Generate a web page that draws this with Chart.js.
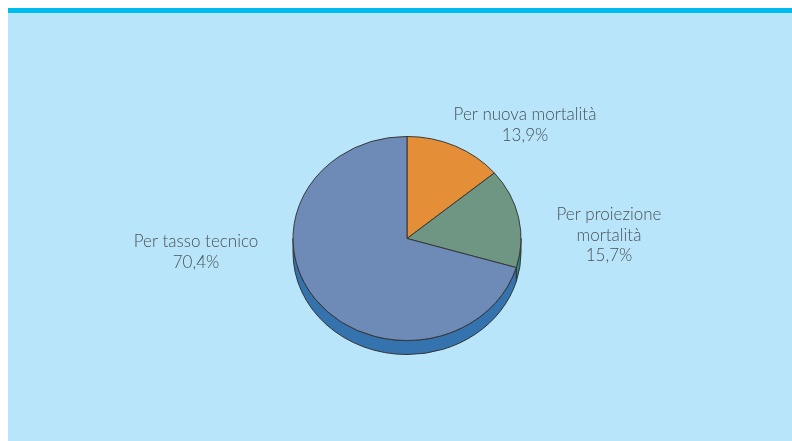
<!DOCTYPE html>
<html>
<head>
<meta charset="utf-8">
<script src="https://cdn.jsdelivr.net/npm/chart.js@4/dist/chart.umd.min.js"></script>
<style>
  html, body { margin: 0; padding: 0; background: #fff; }
  .panel {
    position: absolute; left: 8px; top: 8px; width: 784px; height: 433px;
    box-sizing: border-box; background: #b8e5f9; border-top: 5px solid #00bcee;
  }
  #pie { position: absolute; left: 0; top: 0; }
</style>
</head>
<body>
<div class="panel"></div>
<canvas id="pie" width="792" height="441"></canvas>
<script>
// data
const categories = ['Per nuova mortalità', 'Per proiezione mortalità', 'Per tasso tecnico']
const labelLines = [['Per nuova mortalità'], ['Per proiezione', 'mortalità'], ['Per tasso tecnico']]
const shares = [13.9, 15.7, 70.4]

const topColors = ['#e48f38', '#6f9583', '#6e8bb8']
const sideColors = ['#b86d24', '#2b8a84', '#3473ae']

// where the labels sit (centre x, first baseline y)
const labelPos = [[525, 120], [609, 220], [196, 247]]

const squash = 0.895   // flatten the pie into an ellipse
const depth = 14       // thickness of the 3d side

const tiltPlugin = {
  id: 'tilt',
  beforeDatasetsDraw(chart) {
    const ctx = chart.ctx
    const meta = chart.getDatasetMeta(0)
    const cx = meta.data[0].x, cy = meta.data[0].y
    const r = meta.data[0].outerRadius
    const ry = r * squash

    // front side, only the lower half of the ellipse is visible
    meta.data.forEach((arc, i) => {
      for (const k of [-2 * Math.PI, 0, 2 * Math.PI]) {
        const lo = Math.max(arc.startAngle, k)
        const hi = Math.min(arc.endAngle, k + Math.PI)
        if (hi <= lo) continue
        ctx.save()
        ctx.beginPath()
        ctx.ellipse(cx, cy, r, ry, 0, lo, hi)
        ctx.ellipse(cx, cy + depth, r, ry, 0, hi, lo, true)
        ctx.closePath()
        ctx.fillStyle = sideColors[i]
        ctx.fill()
        ctx.strokeStyle = '#333'
        ctx.lineWidth = 1
        ctx.stroke()
        ctx.restore()
      }
    })

    ctx.save()
    ctx.translate(cx, cy)
    ctx.scale(1, squash)
    ctx.translate(-cx, -cy)
  },
  afterDatasetsDraw(chart) {
    chart.ctx.restore()
  }
}

const labelPlugin = {
  id: 'outLabels',
  afterDraw(chart) {
    const ctx = chart.ctx
    ctx.save()
    ctx.font = '300 17px Lato, "Open Sans", sans-serif'
    ctx.fillStyle = '#4b5157'
    ctx.textAlign = 'center'
    ctx.textBaseline = 'alphabetic'
    labelLines.forEach((lines, i) => {
      const [x, y] = labelPos[i]
      const all = lines.concat([shares[i].toFixed(1).replace('.', ',') + '%'])
      all.forEach((t, j) => ctx.fillText(t, x, y + j * 20.5))
    })
    ctx.restore()
  }
}

new Chart(document.getElementById('pie'), {
  type: 'pie',
  data: {
    labels: categories,
    datasets: [{
      data: shares,
      backgroundColor: topColors,
      borderColor: '#333',
      borderWidth: 1
    }]
  },
  options: {
    responsive: false,
    animation: false,
    layout: { padding: { left: 200, right: 178, top: 124, bottom: 88 } },
    plugins: {
      legend: { display: false },
      tooltip: { enabled: false }
    }
  },
  plugins: [tiltPlugin, labelPlugin]
})
</script>
</body>
</html>
